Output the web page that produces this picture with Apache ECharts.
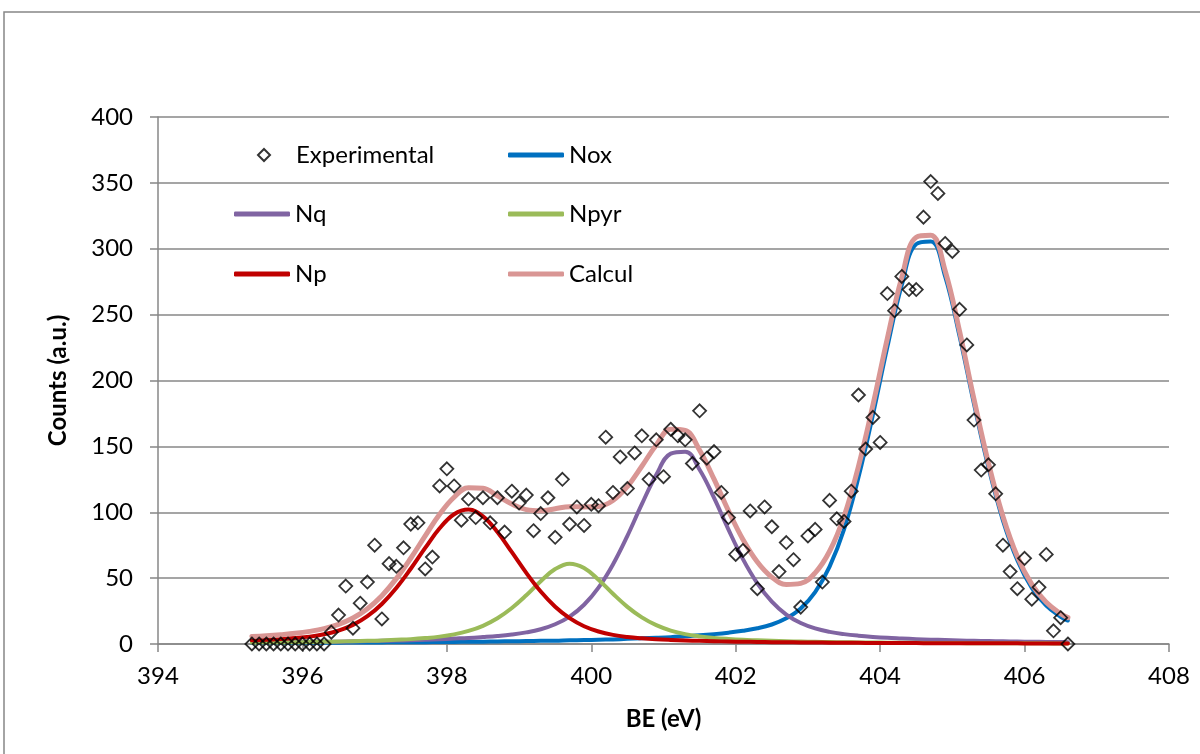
<!DOCTYPE html>
<html>
<head>
<meta charset="utf-8">
<script src="https://cdn.jsdelivr.net/npm/echarts@6/dist/echarts.min.js"></script>
<style>html,body{margin:0;padding:0;background:#fff}#c{width:1200px;height:754px}</style>
</head>
<body>
<div id="c"></div>
<script>
// Experimental points (BE in eV, counts)
const expX = [395.3,395.4,395.5,395.6,395.7,395.8,395.9,396.0,396.1,396.2,396.3,
396.4,396.5,396.6,396.7,396.8,396.9,397.0,397.1,397.2,397.3,397.4,397.5,397.6,397.7,397.8,397.9,
398.0,398.1,398.2,398.3,398.4,398.5,398.6,398.7,398.8,398.9,399.0,399.1,399.2,399.3,399.4,399.5,
399.6,399.7,399.8,399.9,400.0,400.1,400.2,400.3,400.4,400.5,400.6,400.7,400.8,400.9,401.0,401.1,
401.2,401.3,401.4,401.5,401.6,401.7,401.8,401.9,402.0,402.1,402.2,402.3,402.4,402.5,402.6,402.7,
402.8,402.9,403.0,403.1,403.2,403.3,403.4,403.5,403.6,403.7,403.8,403.9,404.0,404.1,404.2,404.3,
404.4,404.5,404.6,404.7,404.8,404.9,405.0,405.1,405.2,405.3,405.4,405.5,405.6,405.7,405.8,405.9,
406.0,406.1,406.2,406.3,406.4,406.5,406.6];
const expY = [0,0,0,0,0,0,0,0,0,0,0,
9,22,44,12,31,47,75,19,61,59,73,91,92,57,66,120,
133,120,94,110,96,111,92,111,85,116,107,113,86,99,111,81,
125,91,104,90,106,105,157,115,142,118,145,158,125,155,127,163,
158,155,137,177,141,146,115,96,68,71,101,42,104,89,55,77,
64,28,82,87,47,109,95,93,116,189,148,172,153,266,253,279,
269,269,324,351,342,304,298,254,227,170,132,136,114,75,55,42,
65,34,43,68,10,20,0];

// Fitted curves at these BE positions
const curveX = [395.3,395.5,395.7,395.9,396.1,396.3,396.5,396.7,396.9,397.1,397.3,397.5,397.7,397.9,
398.1,398.3,398.5,398.7,398.9,399.1,399.3,399.5,399.7,399.9,400.1,400.3,400.5,400.7,400.9,401.1,
401.3,401.5,401.7,401.9,402.1,402.3,402.5,402.7,402.9,403.1,403.3,403.5,403.7,403.9,404.1,404.3,
404.5,404.7,404.9,405.1,405.3,405.5,405.7,405.9,406.1,406.3,406.5,406.6];
const noxY = [0.8,0.8,0.9,0.9,0.9,1.0,1.0,1.1,1.1,1.2,1.3,1.3,1.4,1.5,1.6,1.7,1.8,1.9,2.1,2.2,
2.4,2.5,2.8,3.0,3.2,3.5,3.9,4.3,4.7,5.2,5.9,6.6,7.5,8.6,10.0,11.9,14.8,19.5,27.0,39.4,
58.7,87.0,126.5,174.0,225.5,272.5,303.5,305.5,279.0,233.5,182.1,134.0,93.9,63.6,42.6,29.1,20.7,17.8];
const nqY = [1.2,1.3,1.4,1.5,1.6,1.7,1.8,2.0,2.2,2.4,2.6,2.9,3.2,3.6,4.1,4.6,5.3,6.1,7.2,8.8,
11.2,15.0,20.8,29.8,42.8,60.4,82.1,106.1,128.5,144.5,146.0,132.3,110.9,86.8,64.4,46.0,32.1,22.3,15.9,11.8,
9.2,7.5,6.3,5.4,4.7,4.2,3.7,3.3,3.0,2.7,2.4,2.2,2.0,1.9,1.7,1.6,1.5,1.4];
const npyrY = [1.0,1.1,1.2,1.3,1.5,1.7,1.9,2.1,2.4,2.7,3.2,3.7,4.5,5.6,7.3,9.9,13.8,19.5,27.3,37.0,
47.7,56.9,61.0,57.7,48.8,38.1,28.2,20.2,14.3,10.2,7.5,5.8,4.6,3.8,3.2,2.8,2.4,2.1,1.9,1.7,
1.5,1.3,1.2,1.1,1.0,0.9,0.9,0.8,0.7,0.7,0.6,0.6,0.6,0.5,0.5,0.5,0.4,0.4];
const npY = [2.8,3.2,3.7,4.5,5.6,7.4,10.2,14.5,21.1,30.4,42.5,57.1,72.9,87.8,98.5,102.0,96.9,85.0,69.7,54.0,
39.8,28.3,19.6,13.5,9.5,6.9,5.3,4.3,3.6,3.1,2.7,2.4,2.1,1.9,1.7,1.6,1.4,1.3,1.2,1.1,
1.0,0.9,0.9,0.8,0.8,0.7,0.7,0.6,0.6,0.6,0.5,0.5,0.5,0.5,0.4,0.4,0.4,0.4];
const calculY = [5.7,6.3,7.1,8.1,9.6,11.7,14.9,19.7,26.8,36.7,49.6,65.1,82.1,98.5,111.4,118.6,118.2,112.5,106.3,102.0,
101.1,102.7,104.2,104.0,104.3,108.9,119.5,134.9,151.1,163.0,162.1,147.1,125.1,101.1,79.3,62.2,50.7,45.2,46.0,54.0,
70.4,96.8,134.9,181.3,232.0,278.3,308.7,310.2,283.3,237.4,185.7,137.3,97.0,66.4,45.2,31.6,23.0,20.0];

const xTicks = [394,396,398,400,402,404,406,408];
const yTicks = [0,50,100,150,200,250,300,350,400];

const FONT = 'Lato';
const GRAY = '#878787';
const chart = echarts.init(document.getElementById('c'), null, {renderer:'canvas'});

function pairs(xs, ys){ return xs.map((x,i)=>[x, ys[i]]); }
function lineSeries(name, color, vals, width){
  return {name:name, type:'line', data:pairs(curveX, vals), smooth:0.4, symbol:'none', showSymbol:false,
    lineStyle:{color:color, width:width, cap:'round', join:'round'}, itemStyle:{color:color}, z:2};
}
function legendItem(name, left, top, icon, w, h, padLeft){
  return {data:[name], left:left, top:top, orient:'horizontal', padding:0, itemWidth:w, itemHeight:h,
    itemGap:0, icon:icon, selectedMode:false, symbolKeepAspect:true,
    textStyle:{fontFamily:FONT, fontSize:24, color:'#000', lineHeight:28, padding:[0,0,0,padLeft]}};
}

const option = {
  animation:false,
  backgroundColor:'#fff',
  grid:{left:158, right:31, top:117, bottom:110},
  xAxis:{type:'value', min:xTicks[0], max:xTicks[xTicks.length-1], interval:2,
    name:'BE (eV)', nameLocation:'middle', nameGap:63,
    nameTextStyle:{fontFamily:FONT, fontSize:24, fontWeight:'bold', color:'#000'},
    axisLine:{show:true, onZero:false, lineStyle:{color:GRAY, width:1.5}},
    axisTick:{show:true, length:8, inside:false, lineStyle:{color:GRAY, width:1.5}},
    axisLabel:{margin:20, fontFamily:FONT, fontSize:24, color:'#000'},
    splitLine:{show:false}},
  yAxis:{type:'value', min:yTicks[0], max:yTicks[yTicks.length-1], interval:50,
    name:'Counts (a.u.)', nameLocation:'middle', nameGap:88, nameRotate:90,
    nameTextStyle:{fontFamily:FONT, fontSize:24, fontWeight:'bold', color:'#000'},
    axisLine:{show:true, lineStyle:{color:GRAY, width:1.5}},
    axisTick:{show:true, length:8, inside:false, lineStyle:{color:GRAY, width:1.5}},
    axisLabel:{margin:25, fontFamily:FONT, fontSize:24, color:'#000'},
    splitLine:{show:true, lineStyle:{color:GRAY, width:1.5}}},
  legend:[
    legendItem('Experimental', 257, 141, 'diamond', 12, 12, 21),
    legendItem('Nox', 508, 141, 'roundRect', 56, 5, 0),
    legendItem('Nq', 234, 200, 'roundRect', 56, 5, 0),
    legendItem('Npyr', 508, 200, 'roundRect', 56, 5, 0),
    legendItem('Np', 234, 260, 'roundRect', 56, 5, 0),
    legendItem('Calcul', 508, 260, 'roundRect', 56, 5, 0)
  ],
  graphic:[{type:'rect', silent:true, z:-10,
    shape:{x:4, y:12, width:1400, height:900},
    style:{fill:'none', stroke:GRAY, lineWidth:1.5}}],
  series:[
    lineSeries('Nox', '#0070C0', noxY, 4),
    lineSeries('Nq', '#8064A2', nqY, 4),
    lineSeries('Npyr', '#9BBB59', npyrY, 4),
    lineSeries('Np', '#C00000', npY, 4),
    lineSeries('Calcul', '#D99694', calculY, 5),
    {name:'Experimental', type:'scatter', data:pairs(expX, expY), symbol:'diamond', symbolSize:13, z:5,
      itemStyle:{color:'rgba(255,255,255,0)', borderColor:'#000', borderWidth:1.8}}
  ]
};
chart.setOption(option);
</script>
</body>
</html>
